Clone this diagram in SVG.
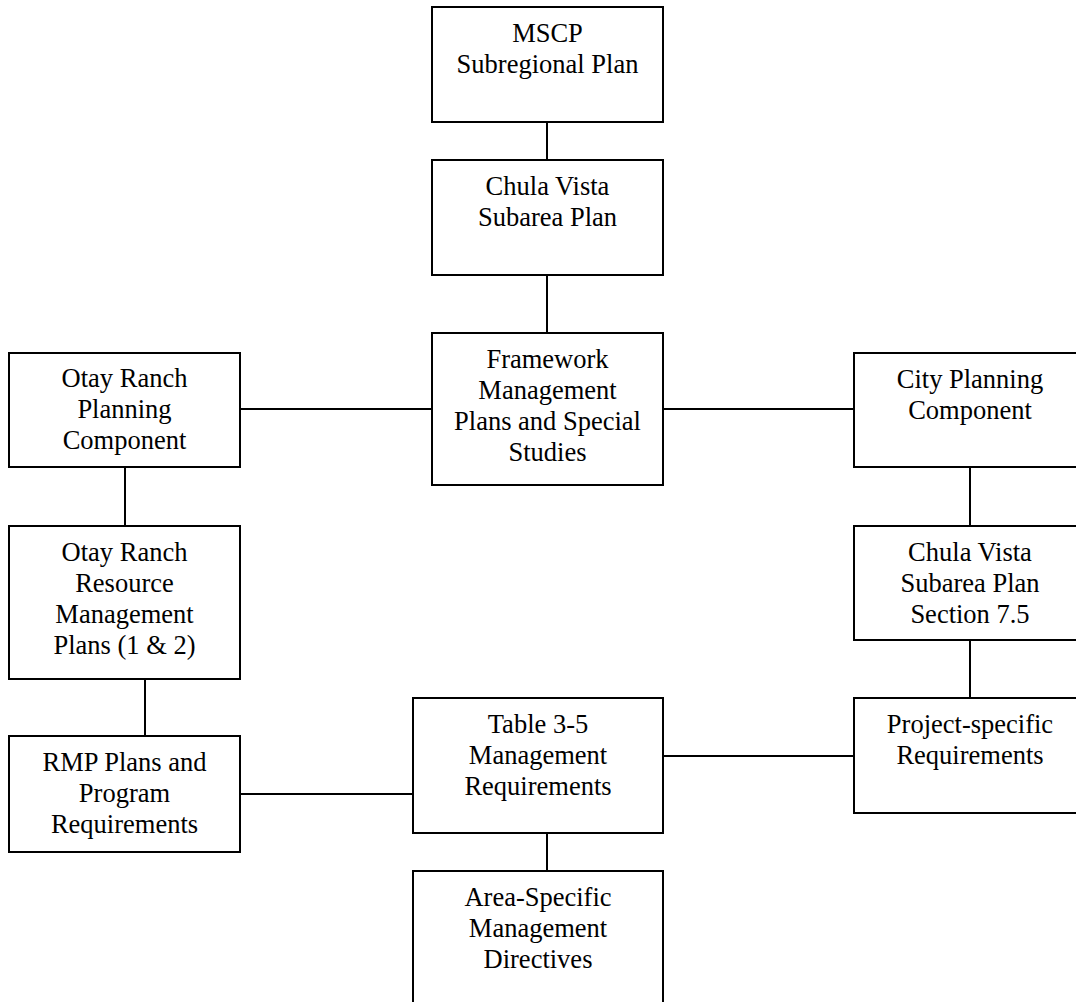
<svg xmlns="http://www.w3.org/2000/svg" width="1076" height="1002" viewBox="0 0 1076 1002">
<style>
.box{fill:#fff;stroke:#000;stroke-width:2}
.c line{stroke:#000;stroke-width:2}
text{font-family:"Liberation Serif","Times New Roman",serif;font-size:26.5px;fill:#000;text-anchor:middle}
</style>
<rect width="1076" height="1002" fill="#fff"/>
<g class="c" id="connectors">
<line x1="547" y1="122" x2="547" y2="160"/>
<line x1="547" y1="275" x2="547" y2="333"/>
<line x1="240" y1="409" x2="432" y2="409"/>
<line x1="663" y1="409" x2="854" y2="409"/>
<line x1="125" y1="467" x2="125" y2="526"/>
<line x1="145" y1="679" x2="145" y2="736"/>
<line x1="970" y1="467" x2="970" y2="526"/>
<line x1="970" y1="640" x2="970" y2="698"/>
<line x1="240" y1="794" x2="413" y2="794"/>
<line x1="663" y1="756" x2="854" y2="756"/>
<line x1="547" y1="833" x2="547" y2="871"/>
</g>
<g id="mscp"><rect class="box" x="432" y="7" width="231" height="115"/>
<text x="547.5" y="41.5">MSCP</text><text x="547.5" y="72.5">Subregional Plan</text></g>
<g id="chula"><rect class="box" x="432" y="160" width="231" height="115"/>
<text x="547.5" y="194.5">Chula Vista</text><text x="547.5" y="225.5">Subarea Plan</text></g>
<g id="framework"><rect class="box" x="432" y="333" width="231" height="152"/>
<text x="547.5" y="367.5">Framework</text><text x="547.5" y="398.5">Management</text><text x="547.5" y="429.5">Plans and Special</text><text x="547.5" y="460.5">Studies</text></g>
<g id="otayPlanning"><rect class="box" x="9" y="353" width="231" height="114"/>
<text x="124.5" y="387">Otay Ranch</text><text x="124.5" y="418">Planning</text><text x="124.5" y="449">Component</text></g>
<g id="otayResource"><rect class="box" x="9" y="526" width="231" height="153"/>
<text x="124.5" y="560.5">Otay Ranch</text><text x="124.5" y="591.5">Resource</text><text x="124.5" y="622.5">Management</text><text x="124.5" y="653.5">Plans (1 &amp; 2)</text></g>
<g id="rmp"><rect class="box" x="9" y="736" width="231" height="116"/>
<text x="124.5" y="770.5">RMP Plans and</text><text x="124.5" y="801.5">Program</text><text x="124.5" y="832.5">Requirements</text></g>
<g id="city"><rect class="box" x="854" y="353" width="231" height="114"/>
<text x="970" y="387.5">City Planning</text><text x="970" y="418.5">Component</text></g>
<g id="cv75"><rect class="box" x="854" y="526" width="231" height="114"/>
<text x="970" y="560.5">Chula Vista</text><text x="970" y="591.5">Subarea Plan</text><text x="970" y="622.5">Section 7.5</text></g>
<g id="project"><rect class="box" x="854" y="698" width="231" height="115"/>
<text x="970" y="732.5">Project-specific</text><text x="970" y="763.5">Requirements</text></g>
<g id="table"><rect class="box" x="413" y="698" width="250" height="135"/>
<text x="538" y="732.5">Table 3-5</text><text x="538" y="763.5">Management</text><text x="538" y="794.5">Requirements</text></g>
<g id="area"><rect class="box" x="413" y="871" width="250" height="140"/>
<text x="538" y="905.5">Area-Specific</text><text x="538" y="936.5">Management</text><text x="538" y="967.5">Directives</text></g>
</svg>
